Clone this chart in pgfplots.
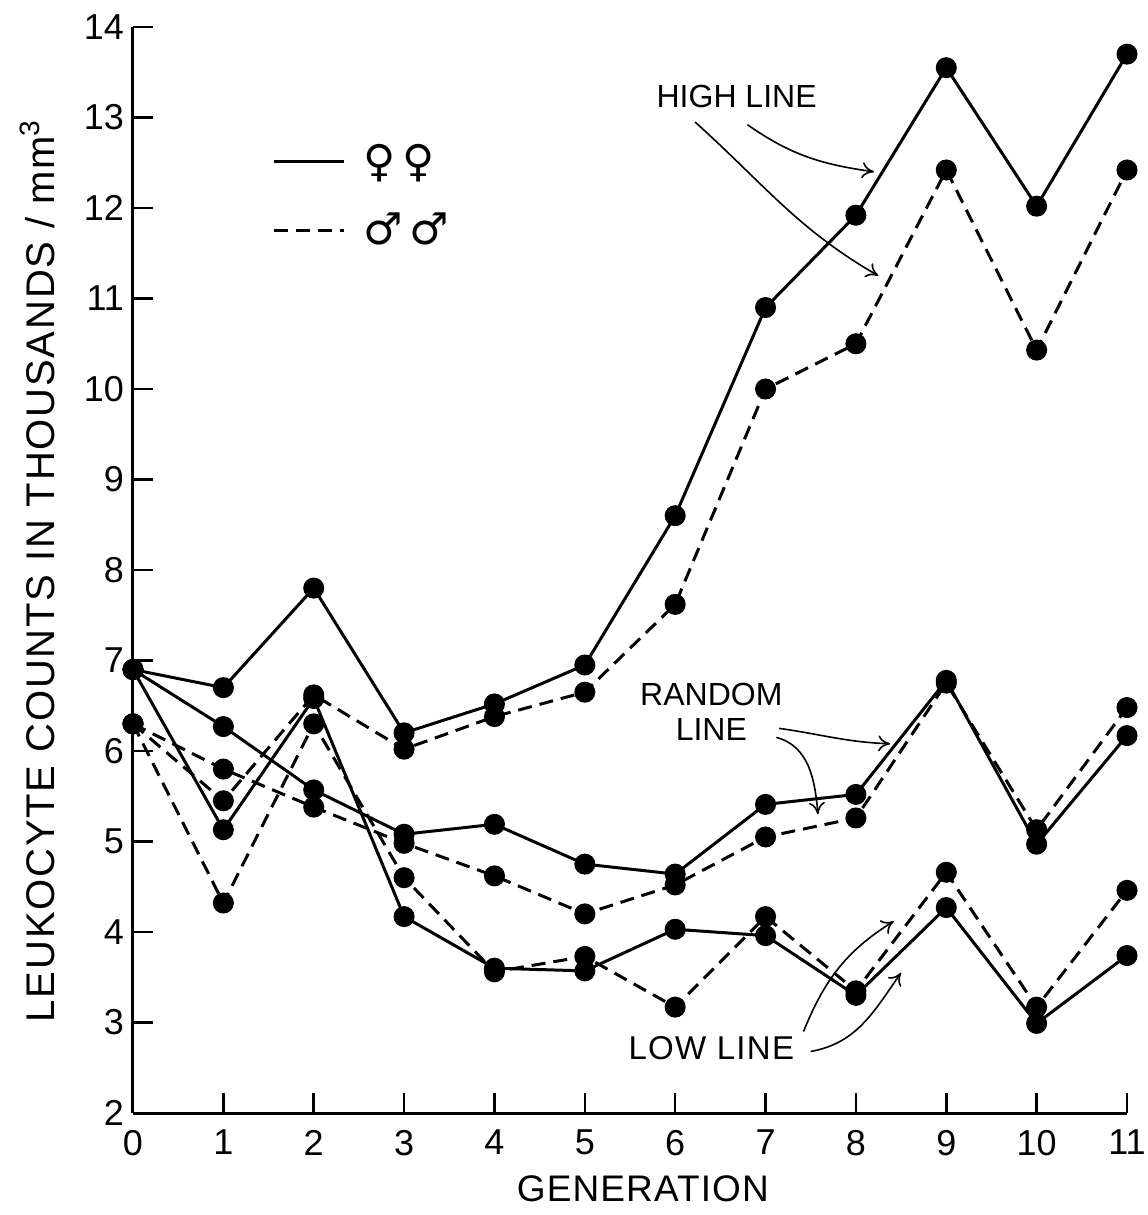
\documentclass[border=0pt]{standalone}
\usepackage{fontspec}
\setmainfont{Liberation Sans}
\newfontfamily\symfont{DejaVu Sans}
\newfontfamily\lblfont[LetterSpace=3]{Liberation Sans}
\newfontfamily\ylblfont[LetterSpace=4.5]{Liberation Sans}
\newfontfamily\annfont[LetterSpace=4]{Liberation Sans}
\usepackage{pgfplots}
\pgfplotsset{compat=1.18}
\usepackage{pgfplotstable}
\usetikzlibrary{arrows.meta}

\pgfplotstableread{
x highF highM randF randM lowF lowM
0 6.9 6.3 6.9 6.3 6.9 6.3
1 6.7 5.45 6.27 5.8 5.13 4.32
2 7.8 6.62 5.57 5.38 6.58 6.3
3 6.2 6.02 5.08 4.98 4.17 4.6
4 6.52 6.38 5.19 4.62 3.6 3.56
5 6.95 6.65 4.75 4.2 3.57 3.73
6 8.6 7.62 4.64 4.52 4.03 3.17
7 10.9 10.0 5.41 5.05 3.96 4.17
8 11.92 10.5 5.52 5.26 3.3 3.35
9 13.55 12.42 6.78 6.75 4.27 4.66
10 12.02 10.43 4.97 5.13 2.99 3.17
11 13.7 12.42 6.17 6.48 3.74 4.46
}\data

\begin{document}
\begin{tikzpicture}
\begin{axis}[
  width=497pt, height=543pt, scale only axis,
  xmin=0, xmax=11, ymin=2, ymax=14,
  axis x line=bottom, axis y line=left,
  axis line style={-, line width=1.5pt, black},
  xtick={0,...,11}, ytick={2,...,14},
  tick align=inside, major tick length=10pt,
  tick style={line width=1.3pt, black},
  /pgf/number format/assume math mode=true,
  tick label style={font=\fontsize{18}{18}\selectfont},
  xticklabel style={yshift=-5pt},
  yticklabel style={xshift=-1pt},
  xlabel={GENERATION},
  ylabel={LEUKOCYTE COUNTS IN THOUSANDS / mm\textsuperscript{3}},
  xlabel style={font=\lblfont\fontsize{18.5}{18.5}\selectfont, at={(axis description cs:0.513,0)}, anchor=north, inner sep=0pt, yshift=-31pt},
  ylabel style={font=\ylblfont\fontsize{20}{20}\selectfont, at={(axis description cs:-0.096,0.0833)}, anchor=west, inner sep=0pt},
  clip=false,
  every axis plot/.append style={black, line width=1.5pt, mark=*, mark size=4.5pt, mark options={solid}},
  legend image code/.code={\draw[#1, mark=none] (0pt,0pt) -- (35pt,0pt);},
  legend style={at={(axis cs:1.47,12.8)}, anchor=north west, draw=none, fill=none,
    font=\symfont\fontsize{22}{22}\selectfont, row sep=13pt,
    /tikz/every odd column/.append style={column sep=7pt}},
  legend cell align=left,
]
\addlegendimage{black, line width=1.5pt}
\addlegendentry{♀\,♀}
\addlegendimage{black, line width=1.5pt, dash pattern=on 7pt off 4pt}
\addlegendentry{♂\,♂}

\addplot[forget plot] table[x=x, y=highF] {\data};
\addplot[forget plot, dash pattern=on 7pt off 4pt] table[x=x, y=highM] {\data};
\addplot[forget plot] table[x=x, y=randF] {\data};
\addplot[forget plot, dash pattern=on 7pt off 4pt] table[x=x, y=randM] {\data};
\addplot[forget plot] table[x=x, y=lowF] {\data};
\addplot[forget plot, dash pattern=on 7pt off 4pt] table[x=x, y=lowM] {\data};

\node[font=\fontsize{16}{16}\selectfont] at (axis cs:6.68,13.23) {HIGH LINE};
\draw[line width=0.8pt, -{To[length=6pt,width=8pt]}] (axis cs:6.8,12.92) to[out=-35, in=172] (axis cs:8.2,12.4);
\draw[line width=0.8pt, -{To[length=6pt,width=8pt]}] (axis cs:6.22,12.95) to[out=-42, in=150] (axis cs:8.25,11.25);

\node[font=\fontsize{16}{17.5}\selectfont, align=center] at (axis cs:6.4,6.43) {RANDOM\\LINE};
\draw[line width=0.8pt, -{To[length=6pt,width=8pt]}] (axis cs:7.15,6.25) to[out=-8, in=178] (axis cs:8.38,6.08);
\draw[line width=0.8pt, -{To[length=6pt,width=8pt]}] (axis cs:7.12,6.15) to[out=-15, in=95] (axis cs:7.58,5.3);

\node[font=\annfont\fontsize{16.5}{16.5}\selectfont] at (axis cs:6.4,2.72) {LOW LINE};
\draw[line width=0.8pt, -{To[length=6pt,width=8pt]}] (axis cs:7.42,2.9) to[out=68, in=212] (axis cs:8.42,4.12);
\draw[line width=0.8pt, -{To[length=6pt,width=8pt]}] (axis cs:7.5,2.68) to[out=10, in=235] (axis cs:8.5,3.55);
\end{axis}
\pgfresetboundingbox
\path[use as bounding box] ([xshift=-66.5pt,yshift=-51pt]current axis.south west) rectangle ([xshift=10.5pt,yshift=13.5pt]current axis.north east);
\end{tikzpicture}
\end{document}
